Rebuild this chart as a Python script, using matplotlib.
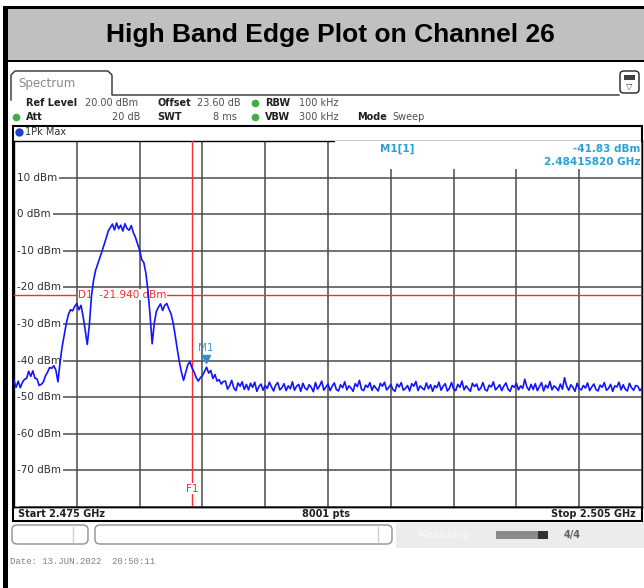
import numpy as np
import matplotlib
matplotlib.use("Agg")
import matplotlib.pyplot as plt
from matplotlib.patches import Rectangle, FancyBboxPatch
from matplotlib.lines import Line2D

# sweep settings
start_ghz = 2.475
stop_ghz = 2.505
step_mhz = 0.1
y_ticks = [10, 0, -10, -20, -30, -40, -50, -60, -70]

# trace (dBm), one value every 0.1 MHz from the start frequency
signal_dbm = [
    -45.5, -47.3, -45.6, -47.4, -46.0, -45.1, -44.9, -42.9, -44.3, -42.8,
    -44.8, -45.0, -46.8, -46.5, -45.9, -44.2, -43.2, -41.9, -42.1, -41.4,
    -42.6, -45.8, -40.5, -36.2, -33.0, -29.8, -27.4, -26.1, -26.4, -25.2,
    -24.4, -26.1, -24.9, -27.9, -31.6, -35.6, -30.2, -22.4, -18.1, -15.3,
    -13.6, -11.9, -10.2, -8.4, -6.6, -4.6, -3.7, -2.7, -4.3, -2.4,
    -4.0, -3.0, -4.6, -2.6, -3.9, -4.4, -3.1, -5.0, -6.3, -8.1,
    -9.8, -12.4, -13.2, -16.1, -21.0, -27.6, -35.4, -29.8, -26.6, -25.4,
    -24.5, -26.3, -24.9, -24.4, -25.9, -27.2, -29.6, -33.1, -36.9, -40.4,
    -43.2, -45.4, -43.3, -41.2, -40.3, -41.9, -43.1, -44.6, -45.6, -44.7,
    -44.1, -43.0, -41.8, -43.4, -42.7, -44.9, -43.8, -45.6, -45.2, -46.4,
    -45.7,
]
floor_dbm = [
    -45.6, -47.8, -46.9, -45.4, -47.5, -48.2, -46.1, -47.0, -45.8, -47.9,
    -46.5, -48.0, -46.2, -47.3, -45.9, -48.4, -47.1, -46.4, -48.1, -46.8,
    -47.6, -45.9, -47.2, -48.3, -46.7, -46.0, -48.0, -47.4, -46.3, -48.2,
    -46.9, -47.7, -45.8, -48.1, -47.0, -46.5, -48.4, -46.2, -47.5, -48.0,
    -46.6, -47.3, -48.5, -46.0, -47.8, -46.9, -45.6, -48.1, -47.2, -46.4,
    -48.2, -47.0, -46.1, -47.9, -48.3, -46.6, -47.4, -45.8, -48.0, -46.9,
    -47.5, -48.4, -46.3, -47.1, -45.4, -47.8, -48.2, -46.7, -47.3, -46.0,
    -48.1, -46.8, -47.6, -48.3, -46.2, -47.0, -45.9, -48.0, -47.4, -46.5,
    -47.9, -48.4, -46.4, -47.2, -46.0, -48.1, -47.6, -46.8, -48.3, -46.3,
    -47.0, -45.7, -48.2, -46.9, -47.5, -48.0, -46.1, -47.7, -46.6, -48.4,
    -46.8, -47.4, -45.9, -48.1, -47.0, -46.3, -48.3, -47.6, -46.0, -47.8,
    -48.2, -46.5, -47.3, -45.6, -48.0, -46.9, -47.7, -48.4, -46.2, -47.1,
    -46.4, -48.1, -47.5, -46.0, -47.9, -48.3, -46.7, -47.2, -45.8, -48.0,
    -47.4, -46.6, -48.2, -47.0, -46.1, -47.8, -48.4, -46.8, -47.3, -46.2,
    -48.0, -46.9, -47.6, -45.1, -47.2, -48.1, -46.5, -47.9, -46.3, -48.2,
    -47.1, -46.0, -48.3, -46.7, -47.5, -45.7, -48.0, -46.9, -47.4, -48.2,
    -46.4, -47.8, -44.7, -47.0, -48.1, -46.6, -47.3, -48.4, -46.2, -47.7,
    -48.0, -46.8, -47.5, -46.1, -48.2, -47.2, -46.4, -47.9, -48.3, -46.7,
    -47.3, -46.0, -48.1, -47.6, -46.5, -48.4, -46.9, -47.2, -45.9, -48.0,
    -46.6, -47.8, -48.3, -46.2, -47.4, -48.1, -46.8, -47.0, -48.2, -47.5,
]
trace_dbm = np.array(signal_dbm + floor_dbm)

# markers and lines
d1_dbm = -21.94
f1_ghz = 2.4835
m1_ghz = 2.48415820
m1_dbm = -41.83

W, H = 644, 588
fig = plt.figure(figsize=(W / 100, H / 100), dpi=100)
fig.patch.set_facecolor("white")


def box(x0, y0, x1, y1, **kw):
    fig.add_artist(Rectangle((x0 / W, 1 - y1 / H), (x1 - x0) / W, (y1 - y0) / H,
                             transform=fig.transFigure, **kw))


def txt(x, y, s, **kw):
    kw.setdefault("fontsize", 7)
    kw.setdefault("va", "center")
    fig.text(x / W, 1 - y / H, s, **kw)


def poly(pts, **kw):
    xs = [p[0] / W for p in pts]
    ys = [1 - p[1] / H for p in pts]
    fig.add_artist(Line2D(xs, ys, transform=fig.transFigure, **kw))


def dot(x, y, color, ms=4.5):
    fig.add_artist(Line2D([x / W], [1 - y / H], marker="o", color=color, ms=ms,
                          transform=fig.transFigure))


# title block
box(3, 6, 644, 9, fc="black", ec="none")
box(3, 6, 8, 588, fc="black", ec="none")
box(8, 9, 644, 60, fc="#c0c0c0", ec="none")
box(8, 60, 644, 62, fc="black", ec="none")
txt(330, 35, "High Band Edge Plot on Channel 26", fontsize=19, fontweight="bold",
    ha="center", family="Liberation Sans")

# spectrum tab and header
poly([(11, 100), (11, 75), (15, 71), (108, 71), (112, 75), (112, 95), (619, 95)],
     color="#303030", lw=1.0)
txt(18, 83, "Spectrum", fontsize=8.5, color="#8a8a8a")
fig.add_artist(FancyBboxPatch((620 / W, 1 - 93 / H), 19 / W, 22 / H,
                              boxstyle="round,pad=0,rounding_size=0.006",
                              transform=fig.transFigure, fc="white", ec="#202020", lw=1))
box(624, 75, 635, 80, fc="#404040", ec="none")
txt(629.5, 86, "\u25bd", fontsize=6, ha="center", color="#404040")

bold_c = "#202020"
norm_c = "#505050"
txt(26, 103, "Ref Level", fontweight="bold", color=bold_c)
txt(85, 103, "20.00 dBm", color=norm_c)
txt(157, 103, "Offset", fontweight="bold", color=bold_c)
txt(197, 103, "23.60 dB", color=norm_c)
dot(255, 103, "#3cb043")
txt(265, 103, "RBW", fontweight="bold", color=bold_c)
txt(299, 103, "100 kHz", color=norm_c)
dot(16, 117, "#3cb043")
txt(26, 117, "Att", fontweight="bold", color=bold_c)
txt(140, 117, "20 dB", color=norm_c, ha="right")
txt(157, 117, "SWT", fontweight="bold", color=bold_c)
txt(237, 117, "8 ms", color=norm_c, ha="right")
dot(255, 117, "#3cb043")
txt(265, 117, "VBW", fontweight="bold", color=bold_c)
txt(299, 117, "300 kHz", color=norm_c)
txt(357, 117, "Mode", fontweight="bold", color=bold_c)
txt(392, 117, "Sweep", color=norm_c)

# window frame
box(13, 126, 642, 521, fc="white", ec="black", lw=1.5, zorder=-1)
dot(19, 132, "#1a3fd0", ms=5)
txt(25, 132, "1Pk Max", color="#303030")
poly([(13, 507), (642, 507)], color="black", lw=1)
txt(18, 514, "Start 2.475 GHz", fontweight="bold", color=bold_c)
txt(326, 514, "8001 pts", fontweight="bold", color=bold_c, ha="center")
txt(636, 514, "Stop 2.505 GHz", fontweight="bold", color=bold_c, ha="right")

# plot area
ax = fig.add_axes([14 / W, 1 - 507 / H, 628 / W, 366 / H])
freqs = np.linspace(start_ghz, start_ghz + step_mhz / 1000 * (len(trace_dbm) - 1), len(trace_dbm))
ax.plot(freqs, trace_dbm, color="#1414ff", lw=1.2, zorder=4)
ax.set_xlim(start_ghz, stop_ghz)
ax.set_ylim(-80, 20)
ax.set_xticks(np.linspace(start_ghz, stop_ghz, 11))
ax.set_yticks(np.arange(-80, 21, 10))
ax.grid(True, color="#4a4a4a", lw=1.1)
ax.tick_params(length=0, labelbottom=False, labelleft=False)
for s in ax.spines.values():
    s.set_color("black")
    s.set_linewidth(1)

# white strip so the level grid starts after the labels
ax.add_patch(Rectangle((0, 0), 0.008, 1, transform=ax.transAxes, fc="white",
                       ec="none", zorder=2))

span = stop_ghz - start_ghz
for v in y_ticks:
    ax.text(start_ghz + span * 0.0055, v, f"{v} dBm", fontsize=7.5, color="#303030",
            va="center", ha="left", zorder=3,
            bbox=dict(fc="white", ec="none", pad=1.2))

ax.axhline(d1_dbm, color="#ff2a2a", lw=1, zorder=3)
ax.text(start_ghz + span * 0.102, d1_dbm, f"D1  {d1_dbm:.3f} dBm", fontsize=7.5,
        color="#ff2a2a", va="center", ha="left", zorder=3.5,
        bbox=dict(fc="white", ec="none", pad=0.3))
ax.axvline(f1_ghz, color="#ff2a2a", lw=1, zorder=3)
ax.text(f1_ghz, -75, "F1", fontsize=7.5, color="#ff2a2a", va="center", ha="center",
        zorder=3.5, bbox=dict(fc="white", ec="none", pad=0.3))
ax.plot([m1_ghz], [m1_dbm + 2.2], marker="v", color="#2a8fd0", ms=6, zorder=5)
ax.text(m1_ghz, m1_dbm + 5.4, "M1", fontsize=7.5, color="#3a9ad9", ha="center",
        va="center", zorder=5)

# marker readout
box(335, 141.5, 641, 169, fc="white", ec="none")
txt(397, 149, "M1[1]", fontweight="bold", color="#2a9fd8", fontsize=7.5, ha="center")
txt(640, 149, f"{m1_dbm:.2f} dBm", fontweight="bold", color="#2a9fd8", fontsize=7.5, ha="right")
txt(640, 162, f"{m1_ghz:.8f} GHz", fontweight="bold", color="#2a9fd8", fontsize=7.5, ha="right")

# status bar
fig.add_artist(FancyBboxPatch((12 / W, 1 - 544 / H), 76 / W, 19 / H,
                              boxstyle="round,pad=0,rounding_size=0.008",
                              transform=fig.transFigure, fc="white", ec="#909090", lw=1))
fig.add_artist(FancyBboxPatch((95 / W, 1 - 544 / H), 297 / W, 19 / H,
                              boxstyle="round,pad=0,rounding_size=0.008",
                              transform=fig.transFigure, fc="white", ec="#909090", lw=1))
poly([(73, 527), (73, 542)], color="#d0d0d0", lw=1)
poly([(378, 527), (378, 542)], color="#d0d0d0", lw=1)
box(396, 523, 644, 548, fc="#ececec", ec="none")
txt(418, 535, "Measuring...", color="#fafafa", fontsize=7)
box(496, 531, 548, 539, fc="#8a8a8a", ec="none")
box(538, 531, 548, 539, fc="#303030", ec="none")
txt(572, 535, "4/4", color="#606060", fontsize=7, fontweight="bold", ha="center")

txt(10, 562, "Date: 13.JUN.2022  20:50:11", fontsize=6.5, color="#808080",
    family="Liberation Mono")

fig.savefig("out.png", dpi=100)
